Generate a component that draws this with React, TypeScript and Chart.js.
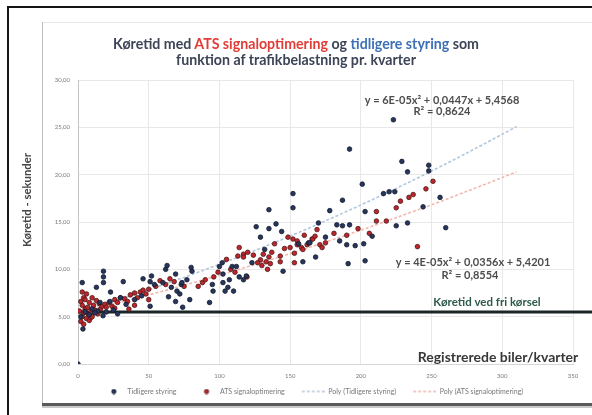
import React, { useEffect, useRef } from "react";
import { Chart, registerables } from "chart.js";

Chart.register(...registerables);

// ---------- data ----------
const tidligereX = [
  0, 3, 3.5, 13, 18, 18, 18, 23, 15.6, 22.6, 17.7, 14, 8, 5, 10, 2, 20, 25, 28, 12, 32, 30, 34, 40, 45, 51, 51, 52, 54, 62, 63, 69, 73, 64, 69, 66, 70, 60, 46,
  72, 74, 73.5, 77, 79, 80.6, 80, 93, 95, 95.5, 100, 102, 102.5, 102.5, 104, 106, 107, 109, 110, 112, 114, 117, 119, 123, 126, 129, 132, 135, 135, 140, 144, 145, 152, 152, 156, 163, 159, 164, 168,
  170, 175, 178, 183, 187, 187, 190, 191, 192, 192, 196, 201, 202, 203, 203, 208, 216, 220, 224, 225, 223, 229, 233, 233, 244, 248, 248, 256, 260, 185,
];
const tidligereY = [
  0, 8.6, 3.7, 8.1, 8.6, 9.2, 9.8, 7.6, 6.5, 6.6, 5.1, 5.6, 5.2, 5.5, 5.8, 5.0, 5.5, 5.7, 5.3, 5.4, 8.7, 7.0, 6.3, 6.8, 7.2, 6.1, 8.7, 9.3, 8.4, 10.0, 10.4, 9.5, 8.4, 7.1, 6.6, 8.1, 7.7, 8.6, 9.0,
  7.4, 6.0, 8.6, 8.9, 6.8, 9.8, 10.2, 6.5, 8.4, 7.7, 10.3, 10.7, 9.5, 8.6, 7.7, 8.1, 8.9, 10.3, 7.7, 10.3, 9.2, 8.9, 9.3, 10.7, 14.5, 13.4, 12.1, 14.3, 16.3, 14.8, 14.0, 9.8, 18.0, 16.5, 12.7, 12.8, 10.8, 12.8, 11.3,
  14.9, 13.4, 16.2, 14.7, 17.3, 14.6, 12.6, 10.6, 22.7, 14.7, 12.5, 19.0, 12.7, 16.1, 10.9, 13.5, 18.0, 18.2, 18.2, 14.6, 25.8, 21.4, 20.3, 14.9, 16.6, 20.4, 21.0, 17.6, 14.4, 13.0,
];

const atsX = [
  1, 2, 2, 3, 3, 3, 4, 4, 4, 5, 5, 6, 6, 6, 7, 7, 8, 8, 9, 9, 10, 10, 11, 12, 13, 14, 15, 16, 17, 19, 20, 22, 24, 26, 26, 28, 30, 33, 35, 36, 37, 40, 40, 42, 44, 46, 48, 50, 50, 55, 58, 62, 65, 68, 75,
  85, 88, 90, 96, 99, 105, 108, 111, 113, 114, 117, 117, 119.5, 120, 124, 127, 129, 130, 131, 133, 134, 135, 136, 137, 139, 143, 143, 146, 148.5, 150, 152, 153, 153, 155, 155, 158, 159, 160, 162, 165.5, 166, 167.6, 169, 171, 172.6,
  175, 181, 190, 198, 206, 211, 211, 218, 225, 228, 234, 237, 240, 246, 251,
];
const atsY = [
  5.6, 4.5, 6.6, 5.0, 6.2, 7.6, 4.2, 5.4, 7.0, 5.8, 6.8, 4.8, 5.9, 7.4, 5.3, 6.0, 4.6, 6.5, 4.9, 5.5, 7.0, 5.0, 6.2, 5.7, 6.7, 5.3, 6.4, 5.8, 6.1, 6.3, 6.0, 6.5, 6.1, 6.8, 5.9, 6.5, 7.0, 6.9, 6.6, 5.8, 7.3, 7.5, 6.2, 7.0, 7.6, 7.8, 7.4, 7.9, 6.8, 8.2, 8.8, 8.4, 9.0, 8.7, 8.2,
  8.2, 8.6, 8.9, 9.2, 9.7, 11.05, 10.0, 9.7, 11.4, 12.3, 11.6, 11.3, 9.2, 11.8, 11.5, 10.7, 11.0, 10.4, 11.6, 10.8, 10.0, 11.3, 10.6, 11.8, 12.7, 11.4, 10.8, 12.2, 13.4, 12.3, 13.2, 11.7, 10.7, 12.6, 13.0, 12.3, 12.1, 13.6, 12.6, 13.2, 13.2, 13.5, 14.2, 12.6, 12.3,
  12.8, 13.8, 13.6, 14.3, 13.8, 16.1, 15.1, 15.1, 16.5, 17.2, 17.6, 17.9, 12.4, 18.5, 19.3,
];

// polynomial trendlines as displayed
const trendX = [0, 25, 50, 75, 100, 125, 150, 175, 200, 225, 250, 275, 300, 310];
const trendTidligereY = [5.46, 6.61, 7.84, 9.15, 10.53, 11.98, 13.51, 15.12, 16.8, 18.55, 20.38, 22.29, 24.27, 25.08];
const trendAtsY = [5.42, 6.34, 7.3, 8.32, 9.38, 10.5, 11.66, 12.88, 14.14, 15.46, 16.82, 18.24, 19.7, 20.3];

const freeFlowX = [0, 366];
const freeFlowY = [5.5, 5.5];

const seriesLabels = ["Tidligere styring", "ATS signaloptimering", "Poly (Tidligere styring)", "Poly (ATS signaloptimering)", "Køretid ved fri kørsel"];
const yTickLabels = ["0,00", "5,00", "10,00", "15,00", "20,00", "25,00", "30,00"];
const xTickLabels = ["0", "50", "100", "150", "200", "250", "300", "350"];

const eqTidligere = "y = 6E-05x² + 0,0447x + 5,4568";
const r2Tidligere = "R² = 0,8624";
const eqAts = "y = 4E-05x² + 0,0356x + 5,4201";
const r2Ats = "R² = 0,8554";
const freeFlowText = "Køretid ved fri kørsel";
const xTitle = "Registrerede biler/kvarter";
const yTitle = "Køretid - sekunder";

const FONT = "Lato, 'Open Sans', sans-serif";
const TID_COLOR = "#27365e";
const ATS_COLOR = "#bf262c";

function makeIcon(kind: "dot" | "line", color: string, edge: string) {
  const c = document.createElement("canvas");
  c.width = 36;
  c.height = 6;
  const g = c.getContext("2d")!;
  if (kind === "dot") {
    g.beginPath();
    g.arc(26, 3, 2.2, 0, Math.PI * 2);
    g.fillStyle = color;
    g.fill();
    g.lineWidth = 0.8;
    g.strokeStyle = edge;
    g.stroke();
  } else {
    g.setLineDash([3, 2]);
    g.strokeStyle = color;
    g.lineWidth = 1.5;
    g.beginPath();
    g.moveTo(13, 3);
    g.lineTo(36, 3);
    g.stroke();
  }
  return c;
}

const textPlugin = {
  id: "textAnnotations",
  afterDraw(chart: any) {
    const ctx = chart.ctx as CanvasRenderingContext2D;
    ctx.save();
    ctx.textAlign = "center";
    ctx.textBaseline = "middle";
    ctx.fillStyle = "#4d4d4d";
    ctx.font = `bold 11px ${FONT}`;
    ctx.fillText(eqTidligere, 442, 100);
    ctx.fillText(r2Tidligere, 442, 111);
    ctx.fillText(eqAts, 473, 262);
    ctx.fillText(r2Ats, 470, 275);
    ctx.fillStyle = "#2f5a4c";
    ctx.font = `bold 11.5px ${FONT}`;
    ctx.fillText(freeFlowText, 487, 302);
    ctx.fillStyle = "#383838";
    ctx.font = `bold 14px ${FONT}`;
    ctx.fillText(xTitle, 498, 357);
    ctx.translate(27, 200);
    ctx.rotate(-Math.PI / 2);
    ctx.fillStyle = "#444";
    ctx.font = `bold 11.3px ${FONT}`;
    ctx.fillText(yTitle, 0, 0);
    ctx.restore();
  },
};

export default function App() {
  const ref = useRef<HTMLCanvasElement | null>(null);

  useEffect(() => {
    if (!ref.current) return;
    const icons = [
      makeIcon("dot", TID_COLOR, "#141a2a"),
      makeIcon("dot", ATS_COLOR, "#4a1818"),
      makeIcon("line", "#b9c9dc", ""),
      makeIcon("line", "#f0b8ae", ""),
    ];
    const tidPts = tidligereX.map((x, i) => ({ x, y: tidligereY[i] }));
    const atsPts = atsX.map((x, i) => ({ x, y: atsY[i] }));
    const trendTid = trendX.map((x, i) => ({ x, y: trendTidligereY[i] }));
    const trendAts = trendX.map((x, i) => ({ x, y: trendAtsY[i] }));
    const freeFlow = freeFlowX.map((x, i) => ({ x, y: freeFlowY[i] }));

    const tickFont = { family: FONT, size: 6 };
    const chart = new Chart(ref.current, {
      type: "scatter",
      data: {
        datasets: [
          {
            label: seriesLabels[0],
            data: tidPts,
            backgroundColor: TID_COLOR,
            borderColor: "#141a2a",
            borderWidth: 0.8,
            pointRadius: 2.3,
          },
          {
            label: seriesLabels[1],
            data: atsPts,
            backgroundColor: ATS_COLOR,
            borderColor: "#4a1818",
            borderWidth: 0.8,
            pointRadius: 2.3,
          },
          {
            label: seriesLabels[2],
            data: trendTid,
            showLine: true,
            pointRadius: 0,
            borderColor: "#b2c6dc",
            borderWidth: 1.6,
            borderDash: [3, 2],
            tension: 0.3,
          },
          {
            label: seriesLabels[3],
            data: trendAts,
            showLine: true,
            pointRadius: 0,
            borderColor: "#f2b8ae",
            borderWidth: 1.6,
            borderDash: [3, 2],
            tension: 0.3,
          },
          {
            label: seriesLabels[4],
            data: freeFlow,
            showLine: true,
            pointRadius: 0,
            borderColor: "#1c2626",
            borderWidth: 3,
            clip: false as any,
          },
        ],
      },
      options: {
        animation: false,
        responsive: false,
        layout: { padding: { left: 38, right: 19, top: 80, bottom: 10 } },
        scales: {
          x: {
            type: "linear",
            min: 0,
            max: 350,
            ticks: {
              stepSize: 50,
              padding: 8,
              font: tickFont,
              color: "#7a7a7a",
              callback: (_v: any, i: number) => xTickLabels[i],
            },
            grid: { color: "#e8e8e8", drawTicks: false },
            border: { color: "#d6d6d6" },
            afterFit: (s: any) => {
              s.height = 20;
            },
          },
          y: {
            min: 0,
            max: 30,
            ticks: {
              stepSize: 5,
              padding: 8,
              font: tickFont,
              color: "#7a7a7a",
              callback: (_v: any, i: number) => yTickLabels[i],
            },
            grid: { color: "#e8e8e8", drawTicks: false },
            border: { color: "#c4c4c4" },
            afterFit: (s: any) => {
              s.width = 40;
            },
          },
        },
        plugins: {
          tooltip: { enabled: false },
          title: { display: false },
          legend: {
            position: "bottom",
            labels: {
              usePointStyle: true,
              pointStyleWidth: 36,
              padding: 4,
              color: "#777",
              font: { family: FONT, size: 7 },
              filter: (item: any) => item.datasetIndex < 4,
              generateLabels: (c: any) => {
                const items = (Chart as any).defaults.plugins.legend.labels.generateLabels(c);
                return items.map((it: any) => ({
                  ...it,
                  pointStyle: icons[it.datasetIndex] || it.pointStyle,
                  fontColor: "#777",
                }));
              },
            },
          },
        },
      },
      plugins: [textPlugin],
    } as any);
    return () => chart.destroy();
  }, []);

  return (
    <div style={{ position: "absolute", left: 0, top: 0, width: 592, height: 415, background: "#fff", overflow: "hidden" }}>
      {/* outer photo frame */}
      <div style={{ position: "absolute", left: 8, top: 6, width: 584, height: 2, background: "#151515" }} />
      <div style={{ position: "absolute", left: 7, top: 6, width: 2, height: 409, background: "#151515" }} />
      {/* chart box */}
      <div style={{ position: "absolute", left: 42, top: 22, width: 550, height: 1, background: "#e6e6e6" }} />
      <div style={{ position: "absolute", left: 42, top: 22, width: 1, height: 383, background: "#bdbdbd" }} />
      <div style={{ position: "absolute", left: 42, top: 403, width: 550, height: 3, background: "#5a5a5a" }} />
      <div style={{ position: "absolute", left: 42, top: 406, width: 550, height: 2, background: "#c8c8c8" }} />
      <canvas ref={ref} width={592} height={415} style={{ position: "absolute", left: 0, top: 0, width: 592, height: 415 }} />
      <div
        style={{
          position: "absolute",
          left: 0,
          top: 36,
          width: 592,
          textAlign: "center",
          fontFamily: FONT,
          fontWeight: 700,
          fontSize: 14.2,
          lineHeight: "16px",
          color: "#3c4456",
        }}
      >
        <div>
          Køretid med <span style={{ color: "#e23c36" }}>ATS signaloptimering</span> og{" "}
          <span style={{ color: "#3f70b6" }}>tidligere styring</span> som
        </div>
        <div>funktion af trafikbelastning pr. kvarter</div>
      </div>
    </div>
  );
}
